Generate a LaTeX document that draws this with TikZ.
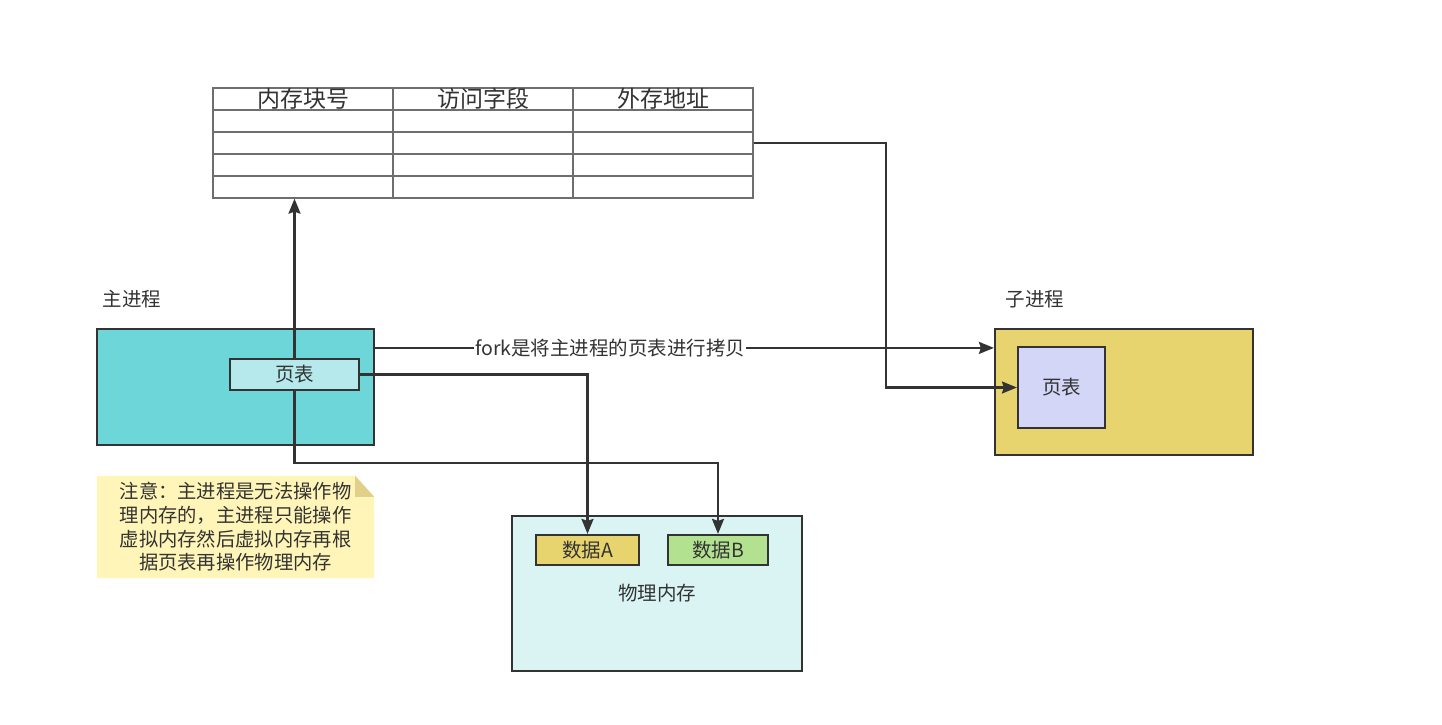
\documentclass[tikz,border=0pt]{standalone}
\usepackage{fontspec}
\setmainfont{Noto Sans CJK SC}
\usepackage{tikz}
\usepackage{xcolor}
\usetikzlibrary{arrows.meta,positioning,calc,backgrounds}
\definecolor{inkgray}{HTML}{333333}
\definecolor{tabgray}{HTML}{6E6E6E}
\definecolor{maincyan}{HTML}{6DD6D8}
\definecolor{ptcyan}{HTML}{B5E9EB}
\definecolor{childyellow}{HTML}{E8D46E}
\definecolor{ptlilac}{HTML}{D4D6F8}
\definecolor{datagreen}{HTML}{B2E190}
\definecolor{memcyan}{HTML}{DAF4F4}
\definecolor{notefill}{HTML}{FFF5B8}
\definecolor{notefold}{HTML}{E2D08A}
\tikzset{
  procbox/.style={
    draw=inkgray,
    line width=2.2pt,
    align=center,
    inner sep=0pt,
    font=\fontsize{19.5}{23}\selectfont,
    text=inkgray
  },
  tabline/.style={draw=tabgray, line width=1.3pt},
  tabhead/.style={font=\fontsize{23}{25}\selectfont, text=inkgray, inner sep=0pt},
  plainlabel/.style={font=\fontsize{19.5}{22}\selectfont, text=inkgray, inner sep=0pt},
  linkarrow/.style={-{Stealth[length=15pt, width=12pt, inset=2pt]}, line width=2.2pt, draw=inkgray},
  linkline/.style={line width=2.2pt, draw=inkgray}
}
\begin{document}
\begin{tikzpicture}[x=1pt, y=-1pt]
\useasboundingbox (0,0) rectangle (1442,724);

% memory table
\node[tabline, minimum width=540pt, minimum height=110pt, inner sep=0pt] (memtab) at (483,143) {};
\draw[tabline] (393,88) -- (393,198);
\draw[tabline] (573,88) -- (573,198);
\draw[tabline] (213,110) -- (753,110);
\draw[tabline] (213,132) -- (753,132);
\draw[tabline] (213,154) -- (753,154);
\draw[tabline] (213,176) -- (753,176);
\node[tabhead] (colblock) at (303,99) {内存块号};
\node[tabhead] (colaccess) at (483,99) {访问字段};
\node[tabhead] (coladdr) at (663,99) {外存地址};

% main process
\node[plainlabel] (mainlabel) at (132,299) {主进程};
\node[procbox, fill=maincyan, minimum width=277pt, minimum height=116pt] (mainbox) at (235.5,387) {};
\node[procbox, fill=ptcyan, minimum width=129pt, minimum height=31pt] (mainpt) at (294.5,374.5) {页表};

% child process
\node[plainlabel] (childlabel) at (1035,299) {子进程};
\node[procbox, fill=childyellow, minimum width=258pt, minimum height=126pt] (childbox) at (1124,392) {};
\node[procbox, fill=ptlilac, minimum width=87pt, minimum height=81pt] (childpt) at (1061.5,387.5) {页表};

% physical memory
\node[procbox, fill=memcyan, minimum width=290pt, minimum height=155pt] (physmem) at (657,593.5) {物理内存};
\node[procbox, fill=childyellow, minimum width=103pt, minimum height=30pt] (dataA) at (587.5,550) {数据A};
\node[procbox, fill=datagreen, minimum width=100pt, minimum height=30pt] (dataB) at (718,550) {数据B};

% note
\node[align=center, text=inkgray, inner sep=0pt, minimum width=277pt, minimum height=102pt,
      font=\fontsize{19.3}{23.7}\selectfont] (note) at (235.5,527)
  {注意：主进程是无法操作物\\理内存的，主进程只能操作\\虚拟内存然后虚拟内存再根\\据页表再操作物理内存};
\begin{scope}[on background layer]
\fill[notefill] (note.north west) -- ([xshift=-19pt]note.north east)
  -- ([yshift=-21pt]note.north east) -- (note.south east) -- (note.south west) -- cycle;
\fill[notefold] ([xshift=-19pt]note.north east) -- ([yshift=-21pt]note.north east)
  -- ([xshift=-19pt, yshift=-21pt]note.north east) -- cycle;
\end{scope}

% connectors
\draw[linkarrow] (mainpt.north) -- (mainpt.north |- memtab.south);
\draw[linkarrow] (mainpt.east) -| (dataA.north);
\draw[linkarrow] (mainpt.south) -- ++(0,72) -| (dataB.north);
\draw[linkarrow] ([yshift=-20pt]mainbox.north east) -- ([yshift=-20pt]childbox.north west)
  node[pos=0.38, fill=white, inner sep=1pt, font=\fontsize{19.5}{22}\selectfont, text=inkgray] (forklabel) {fork是将主进程的页表进行拷贝};
\draw[linkarrow] (memtab.east) -- ++(132,0) |- (childpt.west);
\end{tikzpicture}
\end{document}
